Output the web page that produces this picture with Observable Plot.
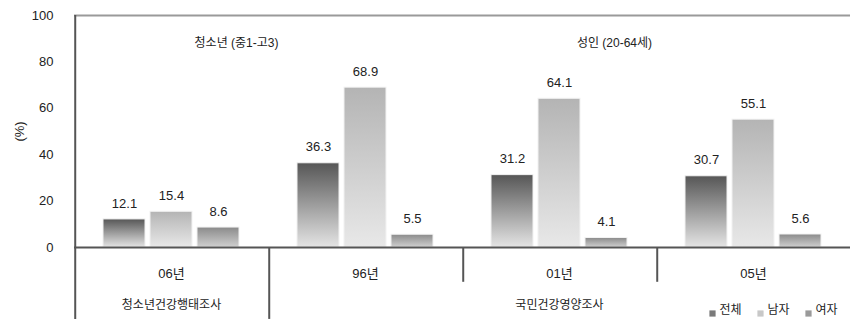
<!DOCTYPE html>
<html>
<head>
<meta charset="utf-8">
<script src="https://cdn.jsdelivr.net/npm/d3@7"></script>
<script src="https://cdn.jsdelivr.net/npm/@observablehq/plot@0.6"></script>
<style>
  html, body { margin: 0; padding: 0; background: #fff; }
  #chart svg { display: block; }
</style>
</head>
<body>
<div id="chart"></div>
<script>
// ---- data ----
const groups = ["06년", "96년", "01년", "05년"];
const seriesNames = ["전체", "남자", "여자"];
const totalVals = [12.1, 36.3, 31.2, 30.7];
const maleVals = [15.4, 68.9, 64.1, 55.1];
const femaleVals = [8.6, 5.5, 4.1, 5.6];
const yTicks = [0, 20, 40, 60, 80, 100];
const surveyLabels = [
  {group: "06년", label: "청소년건강행태조사"},
  {group: "01년", label: "국민건강영양조사"}
];
const ageLabels = [
  {group: "06년", label: "청소년 (중1-고3)"},
  {group: "01년", label: "성인 (20-64세)"}
];
const separators = [
  {group: "96년", bottom: -31},
  {group: "01년", bottom: -15},
  {group: "05년", bottom: -15}
];

// ---- table ----
const seriesVals = [totalVals, maleVals, femaleVals];
const rows = groups.flatMap((g, i) =>
  seriesNames.map((s, j) => ({group: g, series: s, value: seriesVals[j][i]}))
);

const gradIds = {"전체": "gTotal", "남자": "gMale", "여자": "gFemale"};
const legendColors = {"전체": "#7a7a7a", "남자": "#c8c8c8", "여자": "#9a9a9a"};

// ---- layout ----
const W = 850, H = 326;
const mL = 73, mR = 0, mT = 15, mB = 79;
const xPad = {paddingInner: 0.1, paddingOuter: 0.58};
const facetW = (W - mL - mR) / groups.length;
const xs = Plot.scale({x: {type: "band", domain: seriesNames, range: [0, facetW], ...xPad}});
const edgeDx = -(xs.apply(seriesNames[0]) + xs.bandwidth / 2);

const font = "'Liberation Sans', 'Noto Sans CJK KR', sans-serif";

const marks = [
  Plot.ruleY([100], {stroke: "#9a9a9a", strokeWidth: 2}),
  ...seriesNames.map(s =>
    Plot.barY(rows.filter(d => d.series === s), {
      fx: "group", x: "series", y: "value",
      fill: `url(#${gradIds[s]})`, stroke: "#f2f2f2", strokeWidth: 1
    })
  ),
  Plot.text(rows, {
    fx: "group", x: "series", y: "value", text: d => d.value.toFixed(1),
    dy: -16, fontSize: 13, fill: "#222"
  }),
  Plot.ruleY([0], {stroke: "#555", strokeWidth: 2}),
  // y axis line (extends below the baseline)
  Plot.ruleX([{group: "06년"}], {
    fx: "group", x: () => seriesNames[0], y1: 100, y2: -31, dx: edgeDx,
    stroke: "#555", strokeWidth: 2
  }),
  // separators below axis
  Plot.ruleX(separators, {
    fx: "group", x: () => seriesNames[0], y1: 0, y2: "bottom", dx: edgeDx,
    stroke: "#555", strokeWidth: 2
  }),
  Plot.axisY({
    ticks: yTicks, tickSize: 0, tickPadding: 21, fontSize: 13,
    label: "(%)", labelAnchor: "center", labelOffset: 60, labelArrow: "none"
  }),
  Plot.axisFx({anchor: "bottom", tickSize: 0, tickPadding: 21, fontSize: 13, label: null}),
  Plot.text(surveyLabels, {
    fx: "group", text: "label", frameAnchor: "bottom", dy: 61, fontSize: 12, fill: "#222"
  }),
  Plot.text(ageLabels.slice(0, 1), {
    fx: "group", x: () => seriesNames[2], y: () => 88, text: "label",
    dx: 18, fontSize: 12, fill: "#222"
  }),
  Plot.text(ageLabels.slice(1), {
    fx: "group", x: () => seriesNames[2], y: () => 88, text: "label",
    dx: 8, fontSize: 12, fill: "#222"
  }),
  // legend
  ...seriesNames.map((s, i) => Plot.dot([{group: "05년"}], {
    fx: "group", frameAnchor: "bottom-right", dx: -138 + i * 48, dy: 66,
    symbol: "square", r: 3.5, fill: legendColors[s]
  })),
  ...seriesNames.map((s, i) => Plot.text([{group: "05년", label: s}], {
    fx: "group", frameAnchor: "bottom-right", dx: -131 + i * 48, dy: 66,
    text: "label", textAnchor: "start", fontSize: 12, fill: "#222"
  }))
];

const chart = Plot.plot({
  width: W, height: H,
  marginLeft: mL, marginRight: mR, marginTop: mT, marginBottom: mB,
  style: {fontFamily: font, fontSize: "13px", color: "#222", background: "#fff"},
  fx: {domain: groups, padding: 0, axis: null},
  x: {domain: seriesNames, ...xPad, axis: null},
  y: {domain: [0, 100], axis: null},
  marks
});

// gradient definitions
const ns = "http://www.w3.org/2000/svg";
const defs = document.createElementNS(ns, "defs");
const grads = [
  ["gTotal", "#565656", "#e4e4e4"],
  ["gMale", "#b4b4b4", "#e8e8e8"],
  ["gFemale", "#8a8a8a", "#cfcfcf"]
];
for (const [id, top, bottom] of grads) {
  const lg = document.createElementNS(ns, "linearGradient");
  lg.setAttribute("id", id);
  lg.setAttribute("x1", "0"); lg.setAttribute("y1", "0");
  lg.setAttribute("x2", "0"); lg.setAttribute("y2", "1");
  for (const [off, col] of [["0%", top], ["100%", bottom]]) {
    const st = document.createElementNS(ns, "stop");
    st.setAttribute("offset", off);
    st.setAttribute("stop-color", col);
    lg.appendChild(st);
  }
  defs.appendChild(lg);
}
chart.insertBefore(defs, chart.firstChild);
document.getElementById("chart").appendChild(chart);
</script>
</body>
</html>
